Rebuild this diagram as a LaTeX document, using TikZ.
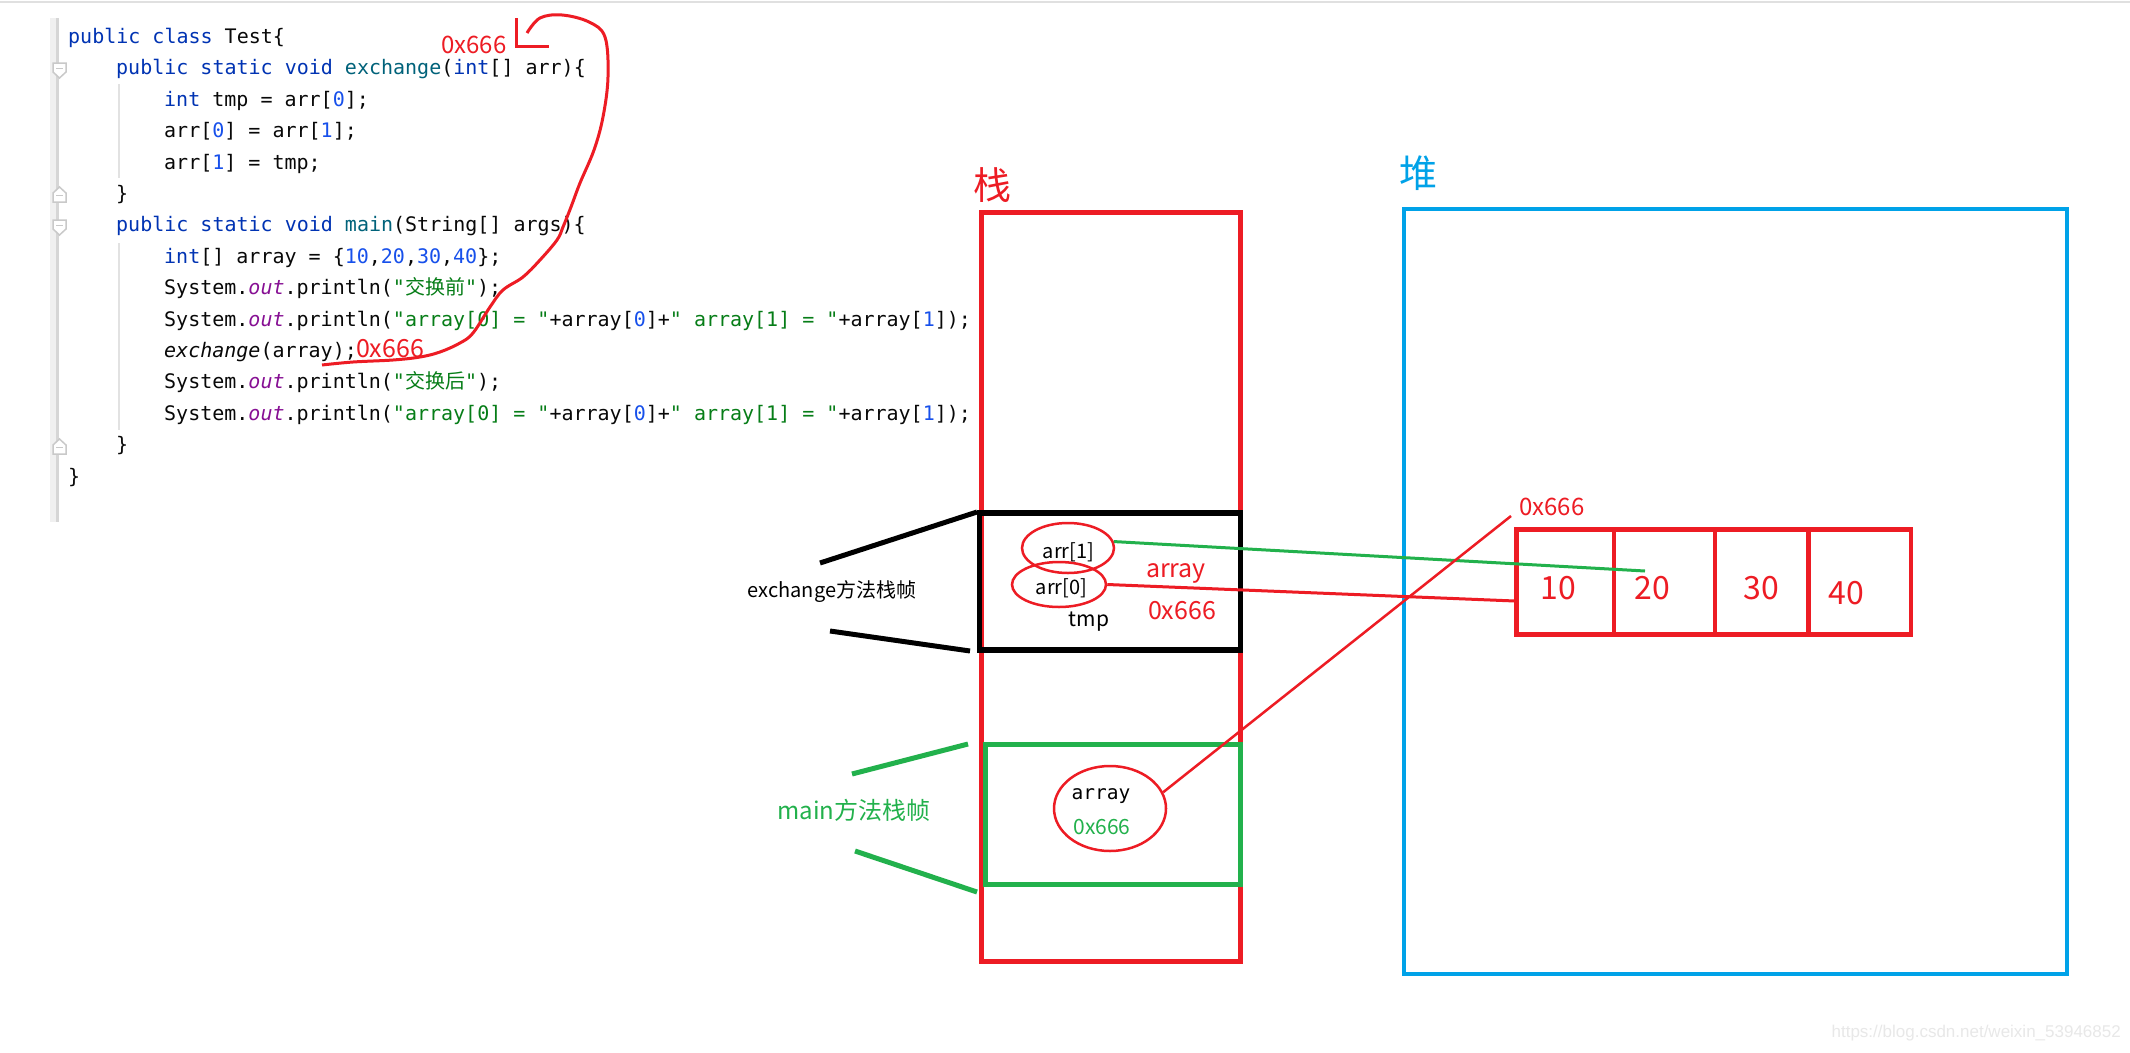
\documentclass[tikz,border=0pt]{standalone}
\usepackage{fontspec}
\setmainfont{Liberation Sans}
\newfontfamily\codefont{DejaVu Sans Mono}
\newfontfamily\cjk{Noto Sans CJK SC}
\usetikzlibrary{shapes.geometric}

\definecolor{pred}{HTML}{ED1C24}
\definecolor{pgreen}{HTML}{22B14C}
\definecolor{pblue}{HTML}{00A2E8}
\definecolor{kwc}{HTML}{0033B3}
\definecolor{numc}{HTML}{1750EB}
\definecolor{strc}{HTML}{067D17}
\definecolor{fldc}{HTML}{871094}
\definecolor{fnc}{HTML}{00627A}
\definecolor{txc}{HTML}{080808}
\definecolor{gutline}{HTML}{D6D6D6}
\definecolor{gutfill}{HTML}{F0F0F0}
\definecolor{guide}{HTML}{E2E2E2}
\definecolor{foldc}{HTML}{C9C9C9}

\newcommand{\ckw}[1]{\textcolor{kwc}{#1}}
\newcommand{\cnum}[1]{\textcolor{numc}{#1}}
\newcommand{\cstr}[1]{\textcolor{strc}{#1}}
\newcommand{\cfld}[1]{\textcolor{fldc}{\itshape #1}}
\newcommand{\cfn}[1]{\textcolor{fnc}{#1}}

\begin{document}
\begin{tikzpicture}[x=1pt,y=-1pt,
  codeline/.style={anchor=base west, inner sep=0pt, text=txc,
    font={\codefont\fontsize{20}{24}\selectfont}},
  lbl/.style={inner sep=0pt, font={\cjk\fontsize{#1}{#1}\selectfont}},
  lbl/.default=20,
  boxline/.style={line width=5pt},
  oval/.style={ellipse, draw=pred, line width=2.5pt, inner sep=0pt},
  fold/.style={draw=foldc, fill=white, line width=1.5pt},
  link/.style={line width=3pt}
]
\fill[white] (0,0) rectangle (2130,1052);
\useasboundingbox (0,0) rectangle (2130,1052);

% editor decorations
\draw[line width=2pt, black!12] (0,1.5) -- (2130,1.5);
\fill[gutfill] (50,18) rectangle (56,522);
\draw[gutline, line width=2.5pt] (57.5,18) -- (57.5,522);
\draw[guide, line width=2pt] (119,84) -- (119,178);
\draw[guide, line width=2pt] (119,243) -- (119,430);
% fold markers
\draw[fold] (53,63) -- (66,63) -- (66,72) -- (59.5,78) -- (53,72) -- cycle;
\draw[foldc, line width=1.5pt] (56,68.5) -- (63,68.5);
\draw[fold] (53,220) -- (66,220) -- (66,229) -- (59.5,235) -- (53,229) -- cycle;
\draw[foldc, line width=1.5pt] (56,225.5) -- (63,225.5);
\draw[fold] (59.5,187) -- (66,193) -- (66,202) -- (53,202) -- (53,193) -- cycle;
\draw[foldc, line width=1.5pt] (56,195.5) -- (63,195.5);
\draw[fold] (59.5,439) -- (66,445) -- (66,454) -- (53,454) -- (53,445) -- cycle;
\draw[foldc, line width=1.5pt] (56,447.5) -- (63,447.5);

% code
\node[codeline] (l1) at (68,43.5) {\ckw{public class} Test\{};
\node[codeline] (l2) at (116,74.9) {\ckw{public static void} \cfn{exchange}(\ckw{int}[] arr)\{};
\node[codeline] (l3) at (164,106.3) {\ckw{int} tmp = arr[\cnum{0}];};
\node[codeline] (l4) at (164,137.7) {arr[\cnum{0}] = arr[\cnum{1}];};
\node[codeline] (l5) at (164,169.1) {arr[\cnum{1}] = tmp;};
\node[codeline] (l6) at (116,200.5) {\}};
\node[codeline] (l7) at (116,231.9) {\ckw{public static void} \cfn{main}(String[] args)\{};
\node[codeline] (l8) at (164,263.3) {\ckw{int}[] array = \{\cnum{10},\cnum{20},\cnum{30},\cnum{40}\};};
\node[codeline] (l9) at (164,294.7) {System.\cfld{out}.println(\cstr{"{\cjk 交换前}"});};
\node[codeline] (l10) at (164,326.1) {System.\cfld{out}.println(\cstr{"array[0] = "}+array[\cnum{0}]+\cstr{" array[1] = "}+array[\cnum{1}]);};
\node[codeline] (l11) at (164,357.5) {{\itshape exchange}(array);};
\node[codeline] (l12) at (164,388.9) {System.\cfld{out}.println(\cstr{"{\cjk 交换后}"});};
\node[codeline] (l13) at (164,420.3) {System.\cfld{out}.println(\cstr{"array[0] = "}+array[\cnum{0}]+\cstr{" array[1] = "}+array[\cnum{1}]);};
\node[codeline] (l14) at (116,451.7) {\}};
\node[codeline] (l15) at (68,483.1) {\}};

% hand-drawn annotation on the code
\node[lbl=24, text=pred] (addrtop) at (474,45) {0x666};
\node[lbl=25, text=pred] (addrcall) at (390,349) {0x666};
\draw[pred, line width=3pt] plot[smooth, tension=0.6] coordinates {
  (322,365) (353,362) (393,360) (420,357) (440,352) (460,343) (473,333)
  (490,307) (503,290) (523,277) (540,260) (557,240) (563,227) (571,207)
  (580,183) (594,150) (603,117) (608,77) (605,37) (589,22) (562,15)
  (540,18) (527,33)};
\draw[pred, line width=3pt] (516,18) -- (516,46) -- (549,46);

% stack
\node[lbl=38, text=pred] (stacklbl) at (992,185) {栈};
\draw[pred, boxline] (981.5,212.5) rectangle (1240.5,961);
\draw[black, line width=5.5pt] (979.5,513) rectangle (1240.5,650);
\draw[pgreen, boxline] (985.5,744) rectangle (1240,884);

% heap
\node[lbl=38, text=pblue] (heaplbl) at (1418,173) {堆};
\draw[pblue, line width=4.5pt] (1404,209) rectangle (2067,974);

% array cells in heap
\draw[pred, line width=4.5pt] (1516.5,529.5) rectangle (1911,634.5);
\draw[pred, line width=4.5pt] (1614,529.5) -- (1614,634.5);
\draw[pred, line width=4.5pt] (1715,529.5) -- (1715,634.5);
\draw[pred, line width=4.5pt] (1808.5,529.5) -- (1808.5,634.5);
\node[lbl=32, text=pred] (v10) at (1558,588) {10};
\node[lbl=32, text=pred] (v20) at (1652,588) {20};
\node[lbl=32, text=pred] (v30) at (1761,588) {30};
\node[lbl=32, text=pred] (v40) at (1846,593) {40};
\node[lbl=24, text=pred] (haddr) at (1552,507) {0x666};
\coordinate (cellhit) at (1515,601);
\coordinate (twenty) at (1645,571);
\coordinate (haddrfoot) at (1511,516);

% exchange frame contents
\node[oval, minimum width=92pt, minimum height=50pt] (a1) at (1068,548) {};
\node[oval, minimum width=94pt, minimum height=45pt] (a0) at (1059,584.5) {};
\node[lbl=20] (a1t) at (1068.5,552) {arr[1]};
\node[lbl=20] (a0t) at (1061.5,588.5) {arr[0]};
\node[lbl=21] (tmpt) at (1089,621.5) {tmp};
\node[lbl=25, text=pred] (exarr) at (1176,573) {array};
\node[lbl=25, text=pred] (exaddr) at (1182,611) {0x666};

% main frame contents
\node[oval, minimum width=112pt, minimum height=85pt] (mainell) at (1110,808.5) {};
\node[inner sep=0pt, font={\codefont\fontsize{19.5}{22}\selectfont}] (mainarr) at (1101,796) {array};
\node[lbl=21, text=pgreen] (mainaddr) at (1102,827) {0x666};

% connectors
\draw[pgreen, link] (a1.8) -- (twenty);
\draw[pred, link] (a0.east) -- (cellhit);
\draw[pred, line width=2.5pt] (mainell.17) -- (haddrfoot);

% frame labels with bracket strokes
\node[lbl=20] (exlbl) at (832,592) {exchange方法栈帧};
\coordinate (eb1) at (820,563); \coordinate (eb2) at (977,512);
\coordinate (eb3) at (830,631); \coordinate (eb4) at (970,651);
\draw[black, line width=5pt] (eb1) -- (eb2);
\draw[black, line width=5pt] (eb3) -- (eb4);
\node[lbl=24, text=pgreen] (mainlbl) at (854,810) {main方法栈帧};
\coordinate (gb1) at (852,774); \coordinate (gb2) at (968,744);
\coordinate (gb3) at (855,851); \coordinate (gb4) at (977,892);
\draw[pgreen, line width=5pt] (gb1) -- (gb2);
\draw[pgreen, line width=5pt] (gb3) -- (gb4);

% watermark
\node[anchor=east, inner sep=0pt, text=black!9, font={\fontsize{17}{20}\selectfont}] (wm) at (2121,1033) {https://blog.csdn.net/weixin\_53946852};
\end{tikzpicture}
\end{document}
